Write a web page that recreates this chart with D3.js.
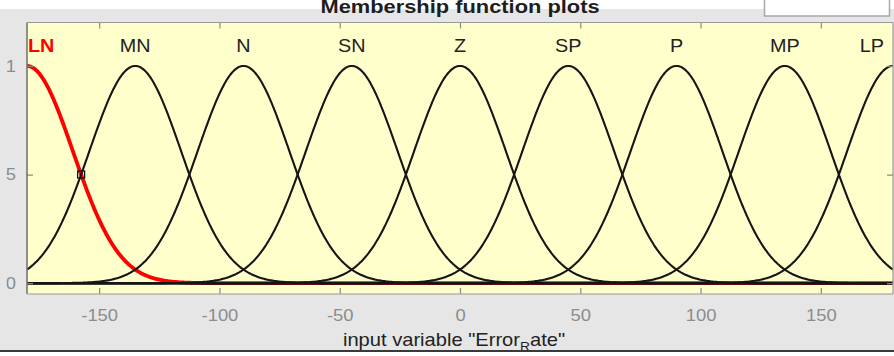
<!DOCTYPE html>
<html>
<head>
<meta charset="utf-8">
<script src="https://cdn.jsdelivr.net/npm/d3@7"></script>
<style>
  html, body { margin: 0; padding: 0; background: #ffffff; }
  svg { display: block; font-family: Arial, "Liberation Sans", Helvetica, sans-serif; }
</style>
</head>
<body>
<svg id="chart" width="894" height="356"></svg>
<script>
// Membership functions of the input variable "Error_Rate" (Gaussian MFs)
const mfNames   = ["LN", "MN", "N", "SN", "Z", "SP", "P", "MP", "LP"];
const mfCenters = [-180, -135, -90, -45, 0, 45, 90, 135, 180];
const mfSigmas  = [19.11, 19.11, 19.11, 19.11, 19.11, 19.11, 19.11, 19.11, 19.11];
const selectedMf = "LN";
const markerX = -157.5;           // point picked on the selected MF

const xDomain = [-180, 180];
const yDomain = [-0.05, 1.2];
const xTicks = [-150, -100, -50, 0, 50, 100, 150];
const yTicks = [0, 0.5, 1];
const yTickLabels = ["0", "0.5", "1"];

const titleText = "Membership function plots";

const W = 894, H = 356;
const plot = { left: 27, right: 893, top: 22.5, bottom: 294 };
const stretch = 1.15;

const svg = d3.select("#chart");

const x = d3.scaleLinear().domain(xDomain).range([plot.left, plot.right]);
const y = d3.scaleLinear().domain(yDomain).range([plot.bottom, plot.top]);

const gauss = (v, c, s) => Math.exp(-((v - c) * (v - c)) / (2 * s * s));

// window background
svg.append("rect").attr("x", 0).attr("y", 0).attr("width", W).attr("height", H).attr("fill", "#ffffff");
svg.append("rect").attr("x", 0).attr("y", 9).attr("width", W).attr("height", 341).attr("fill", "#e6e6e6");
svg.append("rect").attr("x", 0).attr("y", 350).attr("width", W).attr("height", 2).attr("fill", "#3a3a3a");

// edit box in the upper right corner
svg.append("rect").attr("x", 764.5).attr("y", -2).attr("width", 125).attr("height", 18)
  .attr("fill", "#ffffff").attr("stroke", "#a8a8a8").attr("stroke-width", 1.5);

// title (the window's top edge cuts through it)
svg.append("text")
  .attr("transform", `translate(460,12.5) scale(${stretch},1)`)
  .attr("text-anchor", "middle")
  .attr("font-weight", "bold")
  .attr("font-size", 19)
  .attr("fill", "#1e1e1e")
  .text(titleText);

// panel region clips its children
svg.append("defs").append("clipPath").attr("id", "panelClip")
  .append("rect").attr("x", 6.5).attr("y", 9).attr("width", W - 6.5).attr("height", 341);
svg.append("defs").append("clipPath").attr("id", "plotClip")
  .append("rect").attr("x", plot.left).attr("y", plot.top)
  .attr("width", plot.right - plot.left).attr("height", plot.bottom - plot.top);

const panel = svg.append("g").attr("clip-path", "url(#panelClip)");

// axes background
panel.append("rect")
  .attr("x", plot.left).attr("y", plot.top)
  .attr("width", plot.right - plot.left).attr("height", plot.bottom - plot.top)
  .attr("fill", "#ffffcc");

// curves
const samples = d3.range(xDomain[0], xDomain[1] + 0.25, 0.5);
const line = d3.line().x(d => x(d[0])).y(d => y(d[1]));
const curves = panel.append("g").attr("clip-path", "url(#plotClip)");

const order = mfNames.map((n, i) => i).sort((a, b) =>
  (mfNames[a] === selectedMf ? 0 : 1) - (mfNames[b] === selectedMf ? 0 : 1));

order.forEach(i => {
  const sel = mfNames[i] === selectedMf;
  curves.append("path")
    .datum(samples.map(v => [v, gauss(v, mfCenters[i], mfSigmas[i])]))
    .attr("d", line)
    .attr("fill", "none")
    .attr("stroke", sel ? "#ff0000" : "#151515")
    .attr("stroke-width", sel ? 3.8 : 2.1)
    .attr("stroke-linejoin", "round");
});

// marker on the selected MF
const selIdx = mfNames.indexOf(selectedMf);
curves.append("rect")
  .attr("x", x(markerX) - 3.5)
  .attr("y", y(gauss(markerX, mfCenters[selIdx], mfSigmas[selIdx])) - 3.5)
  .attr("width", 7).attr("height", 7)
  .attr("fill", "none").attr("stroke", "#111").attr("stroke-width", 1.3);

// MF labels
const labelG = panel.append("g");
mfNames.forEach((n, i) => {
  const t = labelG.append("text")
    .attr("font-size", 18)
    .attr("font-weight", n === selectedMf ? "bold" : "normal")
    .attr("fill", n === selectedMf ? "#ff0000" : "#222222")
    .attr("text-anchor", "middle")
    .text(n);
  const w = t.node().getComputedTextLength() * 1.1;
  let cx = x(mfCenters[i]);
  cx = Math.max(plot.left + 1 + w / 2, Math.min(plot.right - 9 - w / 2, cx));
  t.attr("transform", `translate(${cx},51.5) scale(1.1,1)`);
});

// axes
const tickColor = "#8a8a8a";
const labelColor = "#8c8c8c";
function styleAxis(g) {
  g.select(".domain").remove();
  g.selectAll(".tick line").attr("stroke", tickColor).attr("stroke-width", 1.2);
}

const xAxis = panel.append("g")
  .attr("transform", `translate(0,${plot.bottom})`)
  .call(d3.axisBottom(x).tickValues(xTicks).tickSize(-6).tickPadding(15.3).tickFormat(d3.format("d")))
  .call(styleAxis);
xAxis.selectAll(".tick text")
  .attr("font-size", 16).attr("font-family", null).attr("fill", labelColor)
  .attr("transform", `scale(${stretch},1)`)
  .text(d => String(d).replace("−", "-"));

panel.append("g")
  .attr("transform", `translate(0,${plot.top})`)
  .call(d3.axisTop(x).tickValues(xTicks).tickSize(-6).tickFormat(""))
  .call(styleAxis);

const yAxis = panel.append("g")
  .attr("transform", `translate(${plot.left},0)`)
  .call(d3.axisLeft(y).tickValues(yTicks).tickSize(-6).tickPadding(11)
    .tickFormat((d, i) => yTickLabels[i]))
  .call(styleAxis);
yAxis.selectAll(".tick text")
  .attr("font-size", 16).attr("font-family", null).attr("fill", labelColor)
  .attr("x", null)
  .attr("transform", `translate(-11,0) scale(${stretch},1)`);

panel.append("g")
  .attr("transform", `translate(${plot.right},0)`)
  .call(d3.axisRight(y).tickValues(yTicks).tickSize(-6).tickFormat(""))
  .call(styleAxis);

// axes box
panel.append("line").attr("x1", plot.left).attr("x2", plot.left)
  .attr("y1", plot.top).attr("y2", plot.bottom).attr("stroke", "#6e6e6e").attr("stroke-width", 1.5);
panel.append("line").attr("x1", plot.left).attr("x2", plot.right)
  .attr("y1", plot.top).attr("y2", plot.top).attr("stroke", "#9a9a9a").attr("stroke-width", 1.2);
panel.append("line").attr("x1", plot.left).attr("x2", plot.right)
  .attr("y1", plot.bottom).attr("y2", plot.bottom).attr("stroke", "#9a9a9a").attr("stroke-width", 1.2);
panel.append("line").attr("x1", plot.right).attr("x2", plot.right)
  .attr("y1", plot.top).attr("y2", plot.bottom).attr("stroke", "#9a9a9a").attr("stroke-width", 1.2);

// x-axis title with subscript
const xl = panel.append("text")
  .attr("transform", `translate(454,345.5) scale(${stretch},1)`)
  .attr("text-anchor", "middle")
  .attr("font-size", 17.5)
  .attr("fill", "#222222");
xl.append("tspan").text('input variable "Error');
xl.append("tspan").attr("font-size", 12).attr("dy", 5).text("R");
xl.append("tspan").attr("dy", -5).text('ate"');
</script>
</body>
</html>
